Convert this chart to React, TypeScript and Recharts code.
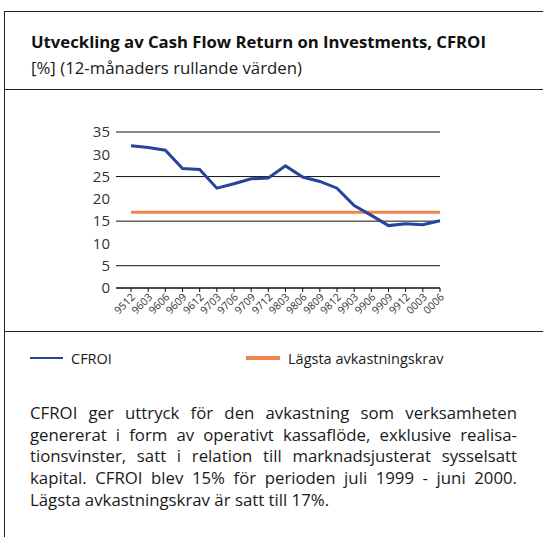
import { LineChart, Line, XAxis, YAxis, CartesianGrid } from "recharts";

// CFROI, 12-månaders rullande värden

const periods = ["9512", "9603", "9606", "9609", "9612", "9703", "9706", "9709", "9712", "9803", "9806", "9809", "9812", "9903", "9906", "9909", "9912", "0003", "0006"];
const cfroi = [31.9, 31.5, 30.9, 26.8, 26.6, 22.4, 23.4, 24.5, 24.7, 27.4, 24.9, 23.9, 22.4, 18.5, 16.3, 14.0, 14.4, 14.2, 15.1];
const requiredReturn = [17, 17, 17, 17, 17, 17, 17, 17, 17, 17, 17, 17, 17, 17, 17, 17, 17, 17, 17];
const yTicks = [0, 5, 10, 15, 20, 25, 30, 35];

const series = [
  { key: "cfroi", name: "CFROI", color: "#28439a" },
  { key: "krav", name: "Lägsta avkastningskrav", color: "#ef8450" },
];

const bodyLines = [
  "CFROI ger uttryck för den avkastning som verksamheten",
  "genererat i form av operativt kassaflöde, exklusive realisa-",
  "tionsvinster, satt i relation till marknadsjusterat sysselsatt",
  "kapital. CFROI blev 15% för perioden juli 1999 - juni 2000.",
  "Lägsta avkastningskrav är satt till 17%.",
];

const data = periods.map((p, i) => ({ period: p, cfroi: cfroi[i], krav: requiredReturn[i] }));

const font = "'Open Sans', 'DejaVu Sans', sans-serif";

function XTick({ x, y, payload }: any) {
  const ax = x + 2;
  const ay = y + 1;
  return (
    <text x={ax} y={ay} transform={`rotate(-45, ${ax}, ${ay})`} textAnchor="end" dominantBaseline="central" fontSize={10.5} fill="#333" fontFamily={font}>
      {payload.value}
    </text>
  );
}

export default function App() {
  return (
    <div style={{ position: "absolute", left: 0, top: 0, width: 543, height: 537, background: "#fff", fontFamily: font, color: "#1a1a1a", overflow: "hidden" }}>
      {/* ram */}
      <div style={{ position: "absolute", left: 4, top: 11, width: 539, height: 526, borderLeft: "1.5px solid #222", borderTop: "1.5px solid #222" }} />
      <div style={{ position: "absolute", left: 4, top: 89, width: 539, borderTop: "1.5px solid #222" }} />
      <div style={{ position: "absolute", left: 4, top: 331, width: 539, borderTop: "1.5px solid #222" }} />

      <div style={{ position: "absolute", left: 31, top: 30, fontSize: 16.7, fontWeight: 700, whiteSpace: "nowrap", color: "#111" }}>
        Utveckling av Cash Flow Return on Investments, CFROI
      </div>
      <div style={{ position: "absolute", left: 31, top: 56, fontSize: 16.8, whiteSpace: "nowrap" }}>
        [%] (12-månaders rullande värden)
      </div>

      <div style={{ position: "absolute", left: 0, top: 0 }}>
        <LineChart width={543} height={340} data={data} margin={{ top: 132, right: 103, left: 86, bottom: 12 }}>
          <CartesianGrid vertical={false} stroke="#111" strokeWidth={1} />
          <XAxis
            dataKey="period"
            interval={0}
            height={40}
            padding={{ left: 15, right: 0 }}
            axisLine={{ stroke: "#111" }}
            tickLine={{ stroke: "#111" }}
            tickSize={4}
            tick={<XTick />}
          />
          <YAxis
            width={30}
            domain={[0, 35]}
            ticks={yTicks}
            axisLine={false}
            tickLine={false}
            tickMargin={0}
            tick={{ fontSize: 15, fill: "#333", fontFamily: font }}
          />
          <Line dataKey="krav" name={series[1].name} stroke={series[1].color} strokeWidth={3} dot={false} type="linear" isAnimationActive={false} />
          <Line dataKey="cfroi" name={series[0].name} stroke={series[0].color} strokeWidth={3} dot={false} type="linear" isAnimationActive={false} />
        </LineChart>
      </div>

      {/* legend */}
      <div style={{ position: "absolute", left: 30, top: 348, fontSize: 14.5, display: "flex", alignItems: "center", height: 20 }}>
        <span style={{ display: "inline-block", width: 33, height: 2.5, background: series[0].color, marginRight: 8 }} />
        {series[0].name}
      </div>
      <div style={{ position: "absolute", left: 246, top: 348, fontSize: 14.5, display: "flex", alignItems: "center", height: 20 }}>
        <span style={{ display: "inline-block", width: 34, height: 3.5, background: series[1].color, marginRight: 8 }} />
        {series[1].name}
      </div>

      <div style={{ position: "absolute", left: 30, top: 402, width: 487, fontSize: 16.8, lineHeight: "21.7px" }}>
        {bodyLines.map((line, i) => (
          <div key={i} style={{ textAlign: "justify", textAlignLast: i < bodyLines.length - 1 ? "justify" : "left", whiteSpace: "nowrap" }}>
            {line}
          </div>
        ))}
      </div>
    </div>
  );
}
